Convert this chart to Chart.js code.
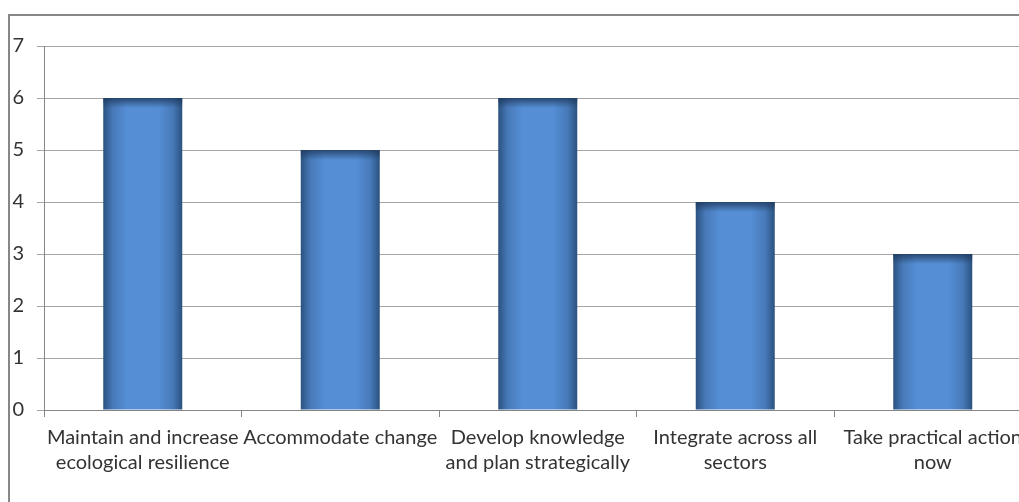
<!DOCTYPE html>
<html>
<head>
<meta charset="utf-8">
<script src="https://cdn.jsdelivr.net/npm/chart.js@4"></script>
<style>
  html, body { margin: 0; padding: 0; background: #fff; overflow: hidden; }
  #frame { position: absolute; left: 8px; top: 14px; width: 1100px; height: 600px;
           border-left: 2px solid #878787; border-top: 2px solid #878787; }
  #wrap { position: absolute; left: 0; top: 0; width: 1040px; height: 502px; }
</style>
</head>
<body>
<div id="frame"></div>
<div id="wrap"><canvas id="myChart" width="1040" height="502"></canvas></div>
<script>
// categories (wrapped the way the original shows them)
const labels = [
  ['Maintain and increase', 'ecological resilience'],
  ['Accommodate change'],
  ['Develop knowledge', 'and plan strategically'],
  ['Integrate across all', 'sectors'],
  ['Take practical action', 'now']
];
const counts = [6, 5, 6, 4, 3];
const yTicks = [0, 1, 2, 3, 4, 5, 6, 7];

const BAR_FRACTION = 0.4;

// horizontal shading across each bar, dark edges and light middle
const barFill = (ctx) => {
  const chart = ctx.chart;
  if (!chart.chartArea) return '#558ed5';
  const xs = chart.scales.x;
  const cx = xs.getPixelForValue(ctx.dataIndex);
  const w = xs.width / labels.length * BAR_FRACTION;
  const g = chart.ctx.createLinearGradient(cx - w / 2, 0, cx + w / 2, 0);
  g.addColorStop(0, '#2b5280');
  g.addColorStop(0.12, '#4779b8');
  g.addColorStop(0.3, '#558ed5');
  g.addColorStop(0.7, '#558ed5');
  g.addColorStop(0.88, '#4779b8');
  g.addColorStop(1, '#2b5280');
  return g;
};

// darker rim along the top of every bar
const topShade = {
  id: 'topShade',
  afterDatasetsDraw(chart) {
    const c = chart.ctx;
    chart.getDatasetMeta(0).data.forEach((bar) => {
      const left = bar.x - bar.width / 2;
      const g = c.createLinearGradient(0, bar.y, 0, bar.y + 10);
      g.addColorStop(0, 'rgba(30,55,90,0.8)');
      g.addColorStop(1, 'rgba(30,55,90,0)');
      c.save();
      c.fillStyle = g;
      c.fillRect(left, bar.y, bar.width, 10);
      c.restore();
    });
  }
};

const font = { family: 'Lato, "Liberation Sans", sans-serif', size: 20, lineHeight: 1.25 };

const data = {
  labels: labels,
  datasets: [{
    data: counts,
    backgroundColor: barFill,
    borderWidth: 0,
    barPercentage: 0.8,
    categoryPercentage: 0.5
  }]
};

const config = {
  type: 'bar',
  data,
  plugins: [topShade],
  options: {
    responsive: false,
    animation: false,
    layout: { padding: { top: 46, right: 8.5, bottom: 10, left: 0 } },
    plugins: { legend: { display: false }, tooltip: { enabled: false } },
    scales: {
      x: {
        grid: { display: true, offset: true, drawOnChartArea: false, color: '#868686', tickLength: 7 },
        border: { display: true, color: '#868686' },
        ticks: { font, color: '#333333', autoSkip: false, maxRotation: 0, padding: 8 },
        afterFit: (scale) => { scale.height = 82; }
      },
      y: {
        min: 0,
        max: 7,
        afterBuildTicks: (scale) => { scale.ticks = yTicks.map((v) => ({ value: v })); },
        grid: { color: '#a6a6a6', tickLength: 7 },
        border: { display: true, color: '#868686' },
        ticks: { font, color: '#333333', padding: 13 },
        afterFit: (scale) => { scale.width = 44; }
      }
    }
  }
};

const myChart = new Chart(document.getElementById('myChart'), config);
</script>
</body>
</html>
